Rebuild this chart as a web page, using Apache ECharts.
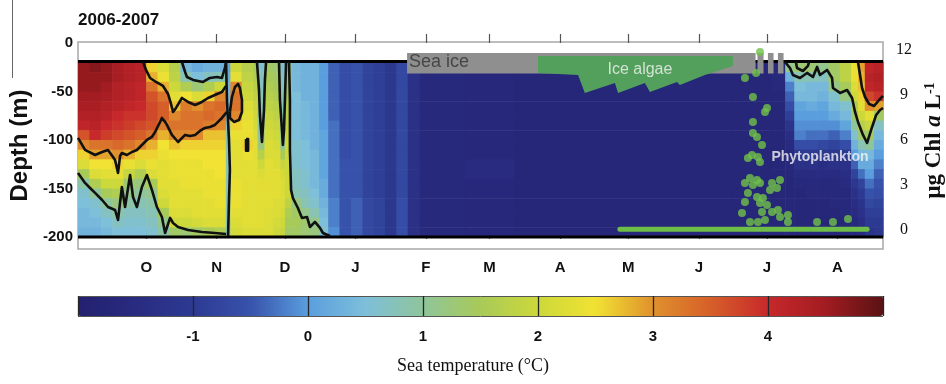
<!DOCTYPE html>
<html>
<head>
<meta charset="utf-8">
<script src="https://cdn.jsdelivr.net/npm/echarts@6/dist/echarts.min.js"></script>
<style>
html, body { margin: 0; padding: 0; background: #fff; }
#chart { width: 946px; height: 384px; }
</style>
</head>
<body>
<div id="chart"></div>
<script>
// x = days since 1 Sep 2006, y = depth (m)
const monthTicks = [30, 61, 91, 122, 153, 181, 212, 242, 273, 303, 334];
const monthLabels = ['O', 'N', 'D', 'J', 'F', 'M', 'A', 'M', 'J', 'J', 'A'];
const depthTicks = [0, -50, -100, -150, -200];
const chlTicks = [0, 3, 6, 9, 12];
const chlMinor = [1.5, 4.5, 7.5, 10.5];

// temperature grid: one profile (top -> bottom) per column
const depthEdges = [-19, -30, -40, -50, -60, -70, -80, -90, -100, -110, -120, -130, -140, -150, -160, -170, -180, -190, -200];
const colEdges = [0, 5, 10, 15, 20, 25, 30, 35, 40, 45, 50, 55, 60, 65, 67, 72, 77, 79, 82, 86, 89, 91, 94, 98, 102, 106, 110,
  115, 120, 125, 130, 135, 140, 145, 150, 170, 192, 288, 305, 311, 315, 320, 325, 330, 335, 340, 343, 346, 350, 354];
const tempProfiles = [
  [4.6, 4.6, 4.6, 4.5, 4.4, 4.3, 4.1, 3.6, 3.1, 2.6, 2.2, 1.5, 0.9, 0.6, 0.5, 0.4, 0.4, 0.3],
  [4.7, 4.6, 4.6, 4.5, 4.4, 4.3, 4.2, 4.0, 3.3, 2.9, 2.5, 2.2, 1.6, 1.0, 0.6, 0.5, 0.4, 0.3],
  [4.6, 4.6, 4.5, 4.4, 4.3, 4.2, 4.0, 3.8, 3.3, 2.9, 2.5, 2.3, 2.0, 1.5, 1.0, 0.7, 0.5, 0.4],
  [4.4, 4.4, 4.3, 4.3, 4.2, 4.0, 3.9, 3.7, 3.4, 3.0, 2.6, 2.3, 2.0, 1.6, 1.2, 0.9, 0.7, 0.5],
  [4.3, 4.3, 4.2, 4.2, 4.1, 3.9, 3.8, 3.6, 3.3, 2.8, 2.4, 1.9, 1.3, 1.1, 0.9, 0.7, 0.6, 0.5],
  [4.2, 4.2, 4.1, 4.1, 4.0, 3.9, 3.7, 3.5, 3.1, 2.6, 2.2, 1.6, 1.2, 1.0, 0.8, 0.7, 0.6, 0.5],
  [2.6, 2.8, 3.3, 3.6, 3.7, 3.7, 3.6, 3.3, 2.8, 2.6, 2.4, 2.2, 1.5, 1.1, 0.9, 0.8, 0.7, 0.6],
  [2.2, 2.4, 2.8, 3.3, 3.5, 3.5, 3.2, 2.8, 2.5, 2.4, 2.3, 2.3, 2.3, 2.2, 2.0, 1.5, 1.1, 0.9],
  [1.7, 1.8, 2.0, 2.3, 2.7, 3.1, 3.3, 3.1, 2.7, 2.5, 2.4, 2.4, 2.3, 2.3, 2.3, 2.2, 2.0, 1.4],
  [0.4, 0.8, 1.6, 2.5, 3.2, 3.3, 3.3, 3.1, 2.6, 2.5, 2.4, 2.4, 2.4, 2.3, 2.3, 2.2, 2.0, 1.3],
  [0.2, 0.5, 1.3, 2.2, 3.0, 3.3, 3.3, 3.1, 2.6, 2.5, 2.4, 2.4, 2.4, 2.3, 2.3, 2.3, 2.1, 1.4],
  [0.3, 0.7, 1.6, 2.6, 3.3, 3.4, 3.2, 2.7, 2.6, 2.5, 2.5, 2.4, 2.4, 2.4, 2.3, 2.3, 2.2, 1.5],
  [0.3, 0.8, 2.0, 3.1, 3.4, 3.3, 3.1, 2.7, 2.6, 2.5, 2.5, 2.5, 2.4, 2.4, 2.4, 2.3, 2.2, 1.6],
  [0.1, 0.2, 0.3, 0.4, 0.5, 0.6, 0.7, 0.8, 0.8, 0.8, 0.8, 0.8, 0.8, 0.8, 0.8, 0.8, 0.8, 0.8],
  [2.0, 2.3, 3.1, 3.3, 3.3, 3.1, 2.6, 2.4, 2.3, 2.3, 2.3, 2.3, 2.4, 2.4, 2.4, 2.3, 2.2, 2.1],
  [1.7, 1.8, 1.9, 2.0, 2.2, 2.3, 2.4, 2.4, 2.6, 2.4, 2.3, 2.3, 2.3, 2.3, 2.3, 2.3, 2.3, 2.2],
  [1.5, 1.6, 1.7, 1.8, 1.9, 2.0, 2.1, 2.2, 2.3, 2.3, 2.3, 2.3, 2.3, 2.3, 2.3, 2.3, 2.3, 2.2],
  [0.6, 0.7, 0.7, 0.8, 0.8, 0.9, 0.9, 0.9, 1.2, 1.7, 2.0, 2.2, 2.3, 2.3, 2.3, 2.3, 2.3, 2.2],
  [1.4, 1.5, 1.6, 1.7, 1.8, 1.9, 2.0, 2.1, 2.2, 2.2, 2.3, 2.3, 2.3, 2.3, 2.3, 2.2, 2.2, 2.2],
  [1.3, 1.4, 1.5, 1.6, 1.7, 1.8, 1.9, 2.0, 2.1, 2.2, 2.2, 2.3, 2.3, 2.3, 2.2, 2.2, 2.1, 2.0],
  [0.6, 0.7, 0.7, 0.8, 0.8, 0.9, 0.9, 0.9, 1.0, 1.5, 1.9, 2.1, 2.2, 2.2, 2.2, 2.1, 2.0, 1.9],
  [1.2, 1.3, 1.4, 1.5, 1.6, 1.7, 1.8, 1.9, 2.0, 2.0, 2.0, 2.0, 2.0, 2.0, 1.8, 1.6, 1.5, 1.4],
  [0.4, 0.4, 0.4, 0.5, 0.5, 0.5, 0.5, 0.5, 0.6, 0.6, 0.6, 0.7, 0.7, 0.8, 1.2, 1.4, 1.5, 1.4],
  [0.3, 0.3, 0.3, 0.3, 0.4, 0.4, 0.4, 0.4, 0.5, 0.5, 0.5, 0.6, 0.6, 0.7, 0.8, 1.1, 1.3, 1.3],
  [0.3, 0.3, 0.3, 0.3, 0.3, 0.3, 0.3, 0.3, 0.3, 0.4, 0.4, 0.4, 0.4, 0.5, 0.6, 0.8, 1.1, 1.2],
  [0.0, 0.0, 0.0, 0.0, 0.0, 0.0, 0.0, 0.1, 0.1, 0.1, 0.1, 0.1, 0.2, 0.2, 0.3, 0.4, 0.5, 0.6],
  [-0.4, -0.4, -0.4, -0.4, -0.4, -0.4, -0.3, -0.3, -0.3, -0.3, -0.3, -0.3, -0.3, -0.3, -0.2, -0.2, -0.2, -0.1],
  [-0.6, -0.6, -0.6, -0.6, -0.6, -0.6, -0.6, -0.6, -0.6, -0.6, -0.5, -0.5, -0.5, -0.5, -0.5, -0.5, -0.5, -0.5],
  [-0.5, -0.5, -0.5, -0.5, -0.5, -0.5, -0.5, -0.5, -0.5, -0.5, -0.5, -0.5, -0.5, -0.5, -0.4, -0.4, -0.4, -0.4],
  [-0.8, -0.8, -0.8, -0.8, -0.8, -0.8, -0.8, -0.8, -0.8, -0.8, -0.8, -0.8, -0.8, -0.8, -0.7, -0.7, -0.7, -0.7],
  [-0.9, -0.9, -0.9, -0.9, -0.9, -0.9, -0.9, -0.9, -0.9, -0.9, -0.9, -0.9, -0.9, -0.9, -0.8, -0.8, -0.8, -0.8],
  [-1.1, -1.1, -1.1, -1.1, -1.1, -1.1, -1.1, -1.1, -1.1, -1.1, -1.1, -1.1, -1.1, -1.1, -1.1, -1.1, -1.1, -1.1],
  [-0.7, -0.7, -0.7, -0.7, -0.7, -0.7, -0.7, -0.7, -0.7, -0.7, -0.7, -0.7, -0.7, -0.7, -0.6, -0.6, -0.6, -0.6],
  [-1.3, -1.3, -1.3, -1.3, -1.3, -1.3, -1.3, -1.3, -1.3, -1.3, -1.3, -1.3, -1.3, -1.3, -1.3, -1.3, -1.3, -1.3],
  [-1.6, -1.6, -1.6, -1.6, -1.6, -1.6, -1.6, -1.6, -1.6, -1.6, -1.6, -1.6, -1.6, -1.6, -1.6, -1.6, -1.6, -1.6],
  [-1.65, -1.65, -1.65, -1.65, -1.65, -1.65, -1.65, -1.65, -1.65, -1.65, -1.5, -1.5, -1.65, -1.65, -1.65, -1.65, -1.65, -1.65],
  [-1.7, -1.7, -1.7, -1.7, -1.7, -1.7, -1.7, -1.7, -1.7, -1.7, -1.7, -1.7, -1.7, -1.7, -1.7, -1.7, -1.7, -1.7],
  [-1.7, -1.7, -1.7, -1.7, -1.7, -1.7, -1.7, -1.7, -1.7, -1.7, -1.7, -1.7, -1.7, -1.7, -1.7, -1.7, -1.7, -1.7],
  [-1.6, -1.6, -1.6, -1.7, -1.7, -1.7, -1.7, -1.7, -1.7, -1.7, -1.7, -1.7, -1.7, -1.7, -1.7, -1.7, -1.7, -1.7],
  [1.1, 0.3, -0.2, -0.4, -0.6, -0.9, -1.2, -1.4, -1.5, -1.6, -1.6, -1.7, -1.7, -1.7, -1.7, -1.7, -1.7, -1.7],
  [1.3, 0.8, 0.5, 0.4, 0.1, 0.0, -0.1, -0.2, -0.6, -1.0, -1.3, -1.5, -1.6, -1.7, -1.7, -1.7, -1.7, -1.7],
  [1.3, 0.8, 0.4, 0.4, 0.2, 0.0, -0.1, -0.3, -0.6, -1.0, -1.3, -1.5, -1.6, -1.6, -1.7, -1.7, -1.7, -1.7],
  [1.1, 0.7, 0.4, 0.3, 0.1, 0.0, -0.1, -0.3, -0.7, -1.1, -1.4, -1.5, -1.6, -1.6, -1.7, -1.7, -1.7, -1.7],
  [1.4, 1.4, 1.1, 0.6, 0.4, 0.2, -0.1, -0.4, -0.8, -1.1, -1.3, -1.5, -1.6, -1.6, -1.6, -1.7, -1.7, -1.7],
  [1.8, 1.8, 1.5, 1.2, 0.6, 0.4, 0.1, -0.2, -0.6, -1.0, -1.3, -1.4, -1.5, -1.6, -1.6, -1.6, -1.7, -1.7],
  [2.4, 2.4, 2.2, 2.0, 1.6, 1.3, 1.0, 0.6, 0.3, 0.0, -0.4, -0.8, -1.1, -1.3, -1.4, -1.5, -1.6, -1.6],
  [2.9, 2.8, 2.7, 2.6, 2.3, 2.0, 1.7, 1.3, 0.8, 0.4, 0.2, -0.3, -0.8, -1.0, -1.2, -1.3, -1.4, -1.5],
  [4.1, 4.2, 4.1, 3.7, 3.0, 2.3, 1.9, 1.4, 1.0, 0.4, 0.2, 0.0, -0.3, -0.5, -0.7, -0.9, -1.0, -1.2],
  [4.2, 4.3, 4.2, 3.9, 2.9, 1.4, 0.7, 0.4, 0.2, 0.0, -0.2, -0.4, -0.5, -0.6, -0.8, -0.9, -1.0, -1.1]
];

// traced isotherms (1 and 3 degC), [day, depth]
const contours = [
  [[28.6, -19.6], [29.9, -27.8], [31.7, -36.1], [34.3, -40.2], [37.4, -44.3], [39.6, -52.6], [40.9, -62.9], [41.8, -71.1],
   [43.1, -67.0], [45.7, -56.7], [48.4, -60.8], [51.5, -63.9], [54.5, -60.8], [57.2, -56.7], [60.2, -53.6], [63.3, -50.5], [65.1, -44.3]],
  [[0, -97.9], [3.1, -110.3], [7.5, -115.5], [10.6, -112.4], [13.2, -110.3], [15.4, -117.5], [16.3, -120.6], [17.6, -134],
   [18.5, -116.5], [19.3, -113.4], [21.5, -115.5], [23.7, -112.4], [25.9, -110.3], [28.1, -105.2], [30.3, -100], [32.5, -96.9],
   [33.9, -91.8], [36.1, -81.4], [36.9, -77.3], [38.3, -81.4], [39.1, -84.5], [41.3, -94.8], [44.0, -102.1], [47.1, -94.8],
   [49.3, -95.9], [51.5, -94.8], [53.6, -90.7], [55.8, -87.6], [58.0, -86.6], [60.2, -84.5], [63.3, -77.3], [65.5, -71.1]],
  [[0, -134], [3.1, -144.3], [5.3, -149.5], [7.5, -154.6], [10.6, -161.9], [13.2, -169.1], [16.3, -172.2], [17.6, -182.5],
   [19.3, -148.5], [20.7, -169.1], [22.9, -136.1], [24.2, -158.8], [25.9, -169.1], [28.1, -148.5], [30.3, -136.1], [32.5, -151.5],
   [34.7, -169.1], [36.9, -179.4], [38.3, -195.9], [40.5, -180.4], [41.8, -185.6], [44.0, -189.7], [48.4, -192.8], [54.5, -194.8],
   [60.2, -195.9], [65.1, -196.9]],
  [[45.7, -19.6], [47.1, -29.9], [47.9, -35.1], [50.6, -38.1], [55.0, -40.2], [58.0, -36.1], [61.1, -35.1], [63.3, -36.1],
   [64.6, -25.8], [65.1, -19.6]],
  [[65.1, -19.6], [65.5, -58.8], [66.4, -100], [66.8, -131], [66.4, -161.9], [66.0, -199]],
  [[66.8, -71.1], [67.7, -55.7], [69.0, -45.4], [70.4, -42.3], [71.2, -46.4], [72.1, -58.8], [72.1, -71.1], [70.8, -79.4],
   [68.6, -81.4], [66.8, -77.3], [66.8, -71.1]],
  [[73.9, -99], [74.8, -99], [74.8, -111], [73.9, -111], [73.9, -99]],
  [[78.7, -19.6], [79.6, -48.5], [80.0, -74.2], [80.9, -102.1], [81.8, -69.1], [82.2, -38.1], [82.7, -19.6]],
  [[88.4, -19.6], [88.8, -58.8], [89.7, -89.7], [90.1, -105.2], [90.6, -89.7], [91.0, -58.8], [91.5, -19.6]],
  [[92.8, -19.6], [93.2, -58.8], [93.2, -110.3], [93.7, -151.5], [94.5, -159.8], [96.7, -170.1], [98.5, -180.4], [100.7, -179.4],
   [102.0, -189.7], [104.2, -184.5], [106.4, -190.7], [107.7, -195.9], [110.8, -199]],
  [[310.9, -19.6], [313.1, -25.8], [314.4, -33.0], [317.5, -36.1], [320.6, -30.9], [323.2, -35.1], [325.0, -24.7], [326.3, -33.0],
   [329.4, -27.8], [331.6, -36.1], [332.0, -46.4], [335.1, -51.5], [338.2, -48.5], [340.4, -56.7], [341.7, -71.1], [343.0, -81.4],
   [345.2, -94.8], [347.0, -103.1], [349.2, -86.6], [351.0, -74.2], [352.7, -69.1], [354, -67.0]],
  [[343.0, -19.6], [343.9, -33.0], [344.8, -46.4], [346.1, -55.7], [347.9, -62.9], [350.1, -64.9], [352.3, -58.8], [354, -54.6]],
  [[315.7, -19.6], [316.2, -25.8], [318.8, -28.9], [321.0, -23.7], [321.5, -19.6]]
];
const boundaryDepths = [-19, -200];

// sea ice cover [startDay, endDay] and ice algae outline [day, depth]
const seaIce = [[144.7, 297.7], [298.8, 301.2], [303.4, 305.6], [307.8, 310.0]];
const iceDepth = [-10.3, -30.9];
const algaePoly = [[202.3, -13.4], [288.0, -13.4], [288.0, -23.7], [275.7, -33.0], [264.7, -43.3], [263.4, -40.2],
  [251.5, -50.5], [249.3, -41.2], [237.5, -51.5], [236.1, -41.2], [222.9, -51.5], [219.9, -33.0], [202.3, -30.9]];

// phytoplankton chl a (ug/L), [day, value]
const phytoDots = [[299.9, 11.87], [293.3, 10.13], [298.2, 10.47], [296.8, 8.87], [303.0, 8.13], [302.1, 7.87], [296.8, 7.2],
  [296.8, 6.47], [298.6, 6.2], [300.8, 5.67], [296.4, 5.0], [299.0, 4.87], [294.6, 4.8], [299.9, 4.53], [295.5, 3.47],
  [298.6, 3.33], [293.3, 3.13], [296.8, 3.0], [299.9, 3.13], [305.2, 3.13], [308.7, 3.33], [307.4, 2.8], [304.3, 2.67],
  [294.6, 2.47], [298.6, 2.2], [301.2, 2.13], [293.3, 1.87], [299.9, 1.8], [303.0, 1.67], [300.8, 1.2], [305.2, 1.2],
  [307.8, 1.33], [308.7, 0.87], [312.2, 1.0], [292.0, 1.13], [295.5, 0.53], [299.0, 0.53], [302.1, 0.67], [312.2, 0.53],
  [325.0, 0.53], [332.0, 0.53], [338.6, 0.73]];
const phytoBase = [[238.3, 0.05], [347.0, 0.05]];

const tempColors = ['#23206f', '#282b80', '#2d3a92', '#3752ab', '#5a9ede', '#7ebfda', '#8fc59b', '#a8ca58',
  '#cdd83a', '#f1e233', '#e0912d', '#d65f29', '#c7282b', '#a21c21', '#5a1214'];

const sans = "'Liberation Sans', Arial, sans-serif";
const serif = "'Liberation Serif', 'Times New Roman', serif";

const cells = [];
tempProfiles.forEach(function (prof, c) {
    prof.forEach(function (t, r) {
        cells.push([colEdges[c], colEdges[c + 1], depthEdges[r], depthEdges[r + 1], t]);
    });
});

function cellRect(fill) {
    return function (params, api) {
        const a = api.coord([api.value(0), api.value(2)]);
        const b = api.coord([api.value(1), api.value(3)]);
        return {
            type: 'rect',
            shape: { x: a[0], y: a[1], width: b[0] - a[0] + 0.6, height: b[1] - a[1] + 0.6 },
            style: { fill: fill || api.visual('color') }
        };
    };
}

const series = [
    {
        type: 'custom', name: 'temp', xAxisIndex: 0, yAxisIndex: 0,
        data: cells, encode: { x: [0, 1], y: [2, 3] },
        renderItem: cellRect(null), z: 1, silent: true
    }
];

boundaryDepths.forEach(function (d) {
    series.push({
        type: 'line', xAxisIndex: 0, yAxisIndex: 0, data: [[0, d], [354, d]],
        symbol: 'none', lineStyle: { color: '#000', width: 3 }, z: 2, silent: true
    });
});

contours.forEach(function (pts) {
    series.push({
        type: 'line', xAxisIndex: 0, yAxisIndex: 0, data: pts, symbol: 'none',
        lineStyle: { color: '#111', width: 2.6, join: 'round' }, z: 2, silent: true
    });
});

series.push({
    type: 'custom', xAxisIndex: 0, yAxisIndex: 0,
    data: seaIce.map(function (s) { return [s[0], s[1], iceDepth[0], iceDepth[1]]; }),
    encode: { x: [0, 1], y: [2, 3] }, renderItem: cellRect('#8f8f8f'), z: 3, silent: true
});

series.push({
    type: 'custom', xAxisIndex: 0, yAxisIndex: 0,
    data: [algaePoly[0]],
    renderItem: function (params, api) {
        return {
            type: 'polygon',
            shape: { points: algaePoly.map(function (p) { return api.coord(p); }) },
            style: { fill: '#52a05b' }
        };
    },
    z: 3, silent: true
});

series.push({
    type: 'line', xAxisIndex: 0, yAxisIndex: 1, data: phytoBase, symbol: 'none',
    lineStyle: { color: '#6dbd47', width: 5, cap: 'round' }, z: 4, silent: true
});

series.push({
    type: 'scatter', xAxisIndex: 0, yAxisIndex: 1, data: phytoDots,
    symbolSize: 8, itemStyle: { color: '#70c049' }, z: 5, silent: true
});

series.push({
    type: 'scatter', xAxisIndex: 0, yAxisIndex: 0, symbolSize: 0, z: 6, silent: true,
    data: [
        { value: [145.6, -19.8], label: { show: true, formatter: 'Sea ice', position: 'right', distance: 0,
            color: '#333', fontSize: 18, fontFamily: sans } },
        { value: [247.1, -27.8], label: { show: true, formatter: 'Ice algae', position: 'inside',
            color: '#f2f2f2', fontSize: 16, fontFamily: sans } },
        { value: [326.3, -117.5], label: { show: true, formatter: 'Phytoplankton', position: 'inside',
            color: '#f4f4f4', fontSize: 14, fontWeight: 'bold', fontFamily: sans } }
    ]
});

const tickFont = { color: '#111', fontSize: 15, fontWeight: 'bold', fontFamily: sans };

const option = {
    animation: false,
    backgroundColor: '#fff',
    title: {
        text: '2006-2007', left: 73, top: 7,
        textStyle: { fontSize: 17, fontWeight: 'bold', color: '#111', fontFamily: sans }
    },
    graphic: [
        { type: 'line', shape: { x1: 12.5, y1: 0, x2: 12.5, y2: 78 }, style: { stroke: '#666', lineWidth: 1 } },
        { type: 'text', left: 'center', top: 357,
          style: { text: 'Sea temperature (°C)', fontSize: 18, fontFamily: serif, fill: '#111' } }
    ],
    grid: [
        { left: 78, right: 63, top: 42, bottom: 135, show: true, borderColor: '#a8a8a8', borderWidth: 1.5,
          containLabel: false, outerBoundsMode: 'none' },
        { left: 78, width: 805, top: 296, height: 20, containLabel: false, outerBoundsMode: 'none' }
    ],
    visualMap: {
        type: 'continuous', seriesIndex: 0, dimension: 4, min: -2, max: 5,
        orient: 'horizontal', left: 78, top: 296, itemWidth: 20, itemHeight: 805,
        padding: 0, calculable: false, text: null, hoverLink: false,
        inRange: { color: tempColors }
    },
    xAxis: [
        {
            gridIndex: 0, type: 'value', min: 0, max: 354, position: 'bottom',
            axisLine: { show: false }, splitLine: { show: false },
            axisTick: { customValues: monthTicks, inside: true, length: 9, lineStyle: { color: '#555', width: 1.2 } },
            axisLabel: Object.assign({ customValues: monthTicks, margin: 11,
                formatter: function (v) { return monthLabels[monthTicks.indexOf(v)]; } }, tickFont)
        },
        {
            gridIndex: 0, type: 'value', min: 0, max: 354, position: 'top',
            axisLine: { show: false }, splitLine: { show: false }, axisLabel: { show: false },
            axisTick: { customValues: monthTicks, inside: true, length: 9, lineStyle: { color: '#555', width: 1.2 } }
        },
        {
            gridIndex: 1, type: 'value', min: -2, max: 5, interval: 1, position: 'bottom', z: 10,
            axisLine: { show: false }, axisTick: { show: false },
            splitLine: { show: true, lineStyle: { color: '#262626', width: 1.3 } },
            axisLabel: Object.assign({ margin: 13, showMinLabel: false, showMaxLabel: false }, tickFont)
        }
    ],
    yAxis: [
        {
            gridIndex: 0, type: 'value', min: -212.4, max: 1, position: 'left',
            axisLine: { show: false }, axisTick: { show: false }, splitLine: { show: false },
            axisLabel: Object.assign({ customValues: depthTicks, margin: 5 }, tickFont),
            name: 'Depth (m)', nameLocation: 'middle', nameGap: 45, nameRotate: 90,
            nameTextStyle: { fontSize: 24, fontWeight: 'bold', color: '#111', fontFamily: sans }
        },
        {
            gridIndex: 0, type: 'value', min: -1.27, max: 12.53, position: 'right', offset: 4,
            axisLine: { show: false }, splitLine: { show: false },
            axisTick: { customValues: chlMinor, length: 8, lineStyle: { color: '#222', width: 1.5 } },
            axisLabel: { customValues: chlTicks, margin: 17, align: 'center', color: '#111', fontSize: 16, fontFamily: serif },
            name: '{r|μg Chl }{i|a}{r| L}{s|-1}', nameLocation: 'middle', nameGap: 30, nameRotate: 90,
            nameTextStyle: {
                padding: [0, 0, 0, 10],
                rich: {
                    r: { fontSize: 23, fontWeight: 'bold', color: '#111', fontFamily: serif },
                    i: { fontSize: 23, fontWeight: 'bold', fontStyle: 'italic', color: '#111', fontFamily: serif },
                    s: { fontSize: 14, fontWeight: 'bold', color: '#111', fontFamily: serif, verticalAlign: 'top' }
                }
            }
        },
        {
            gridIndex: 1, type: 'value', min: 0, max: 1, interval: 1, z: 10,
            axisLine: { show: false }, axisTick: { show: false }, axisLabel: { show: false },
            splitLine: { show: true, lineStyle: { color: '#555', width: 1 } }
        }
    ],
    series: series
};

const chart = echarts.init(document.getElementById('chart'));
chart.setOption(option);
</script>
</body>
</html>
